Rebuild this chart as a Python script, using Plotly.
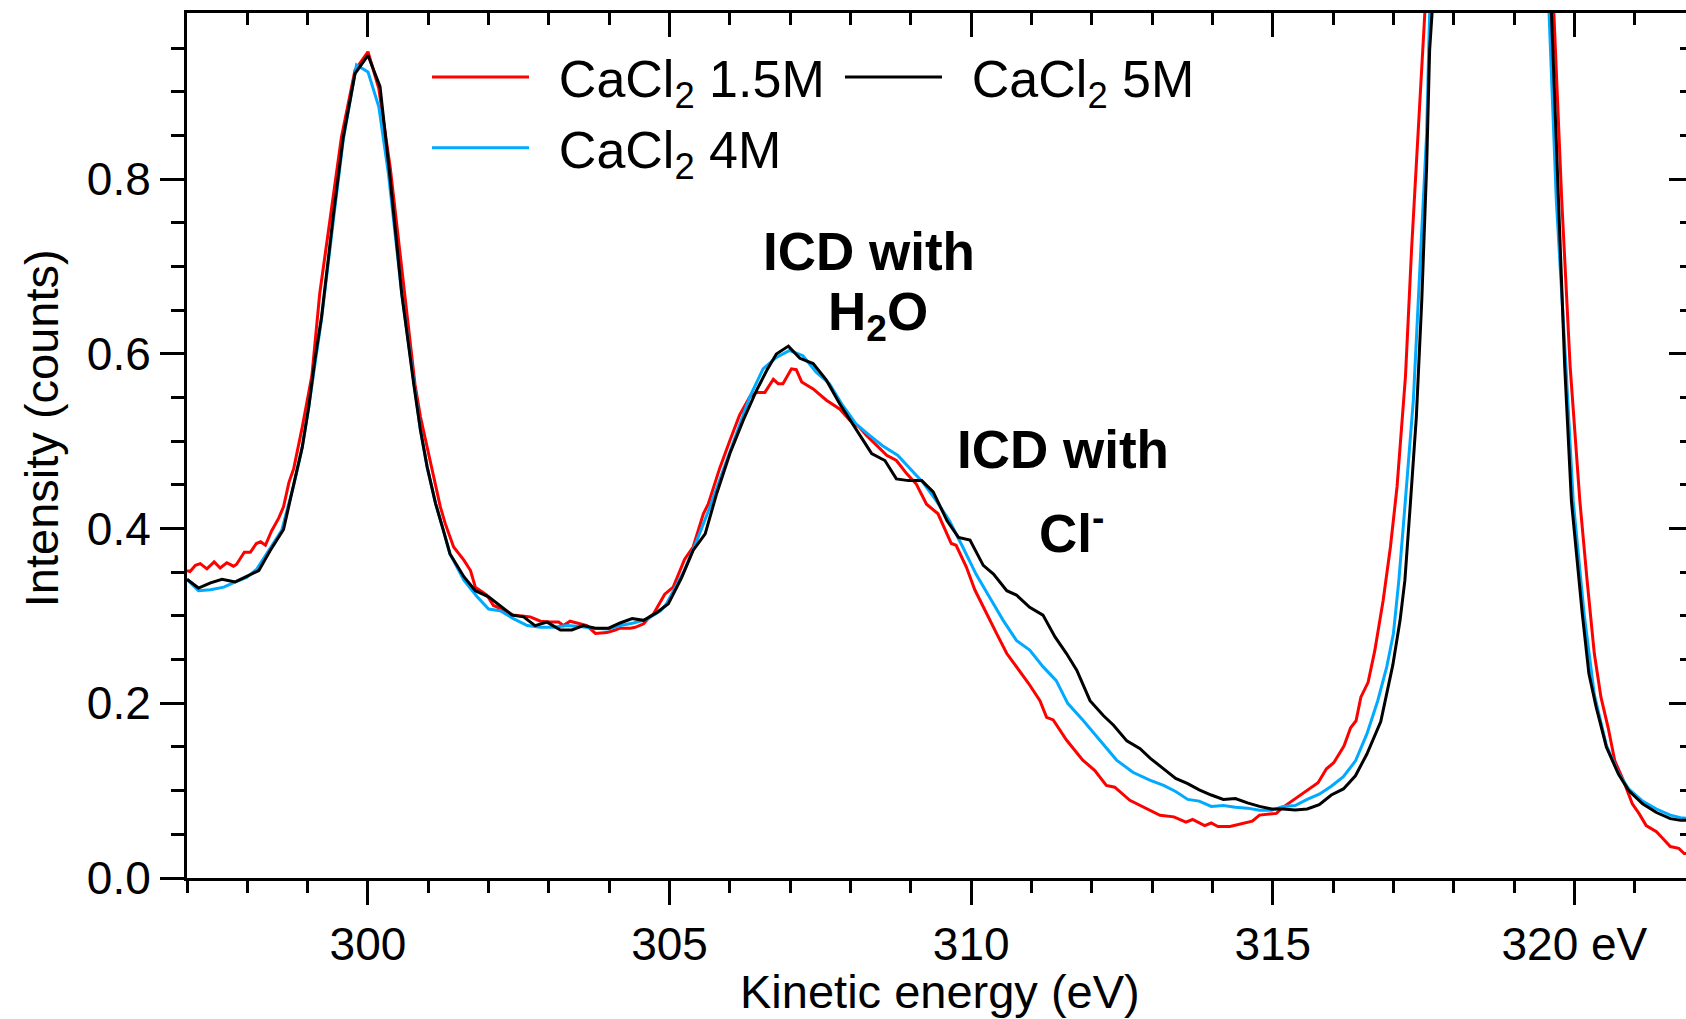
import plotly.graph_objects as go

# ---------------- data ----------------
energy_15M = [297.00, 297.05, 297.14, 297.22, 297.33, 297.45, 297.55, 297.66, 297.77, 297.82,
              297.95, 298.05, 298.15, 298.22, 298.30, 298.40, 298.52, 298.60, 298.69, 298.77,
              298.91, 298.99, 299.07, 299.20, 299.37, 299.56, 299.785, 300.00, 300.18, 300.37,
              300.59, 300.78, 300.87, 300.98, 301.09, 301.20, 301.28, 301.42, 301.59, 301.70,
              301.78, 301.97, 302.08, 302.25, 302.41, 302.55, 302.69, 302.86, 303.02, 303.16,
              303.24, 303.35, 303.41, 303.52, 303.63, 303.77, 303.96, 304.10, 304.18, 304.35,
              304.43, 304.57, 304.67, 304.73, 304.92, 305.06, 305.25, 305.39, 305.56, 305.64,
              305.83, 306.00, 306.16, 306.33, 306.44, 306.58, 306.72, 306.80, 306.88, 307.02,
              307.10, 307.19, 307.38, 307.60, 307.82, 307.99, 308.15, 308.26, 308.43, 308.60,
              308.76, 308.93, 309.09, 309.26, 309.45, 309.53, 309.67, 309.75, 309.92, 310.06,
              310.25, 310.42, 310.59, 310.75, 310.95, 311.14, 311.25, 311.36, 311.58, 311.85,
              312.05, 312.24, 312.38, 312.63, 312.80, 312.96, 313.13, 313.36, 313.56, 313.67,
              313.87, 313.98, 314.09, 314.29, 314.47, 314.66, 314.78, 315.06, 315.15, 315.35,
              315.55, 315.75, 315.89, 316.01, 316.18, 316.29, 316.38, 316.46, 316.58, 316.69,
              316.83, 316.95, 317.06, 317.20, 317.30, 317.41, 317.52, 317.70, 318.00, 318.60,
              319.20, 319.50, 319.66, 319.79, 319.93, 320.09, 320.21, 320.33, 320.44, 320.56,
              320.67, 320.81, 320.96, 321.07, 321.19, 321.36, 321.47, 321.59, 321.73, 321.82,
              321.90]
intensity_15M = [0.352, 0.351, 0.358, 0.360, 0.354, 0.362, 0.355, 0.361, 0.357, 0.359,
                 0.373, 0.373, 0.383, 0.385, 0.381, 0.397, 0.412, 0.425, 0.453, 0.469,
                 0.516, 0.547, 0.575, 0.669, 0.753, 0.848, 0.925, 0.946, 0.904, 0.813,
                 0.680, 0.565, 0.528, 0.494, 0.459, 0.425, 0.406, 0.379, 0.364, 0.352,
                 0.333, 0.324, 0.312, 0.307, 0.301, 0.300, 0.299, 0.294, 0.293, 0.293,
                 0.289, 0.294, 0.293, 0.291, 0.289, 0.280, 0.281, 0.284, 0.286, 0.286,
                 0.287, 0.291, 0.299, 0.302, 0.325, 0.333, 0.365, 0.379, 0.417, 0.428,
                 0.469, 0.501, 0.530, 0.551, 0.556, 0.556, 0.571, 0.566, 0.566, 0.583,
                 0.582, 0.568, 0.560, 0.547, 0.537, 0.524, 0.516, 0.507, 0.495, 0.484,
                 0.478, 0.463, 0.451, 0.428, 0.417, 0.405, 0.383, 0.381, 0.356, 0.330,
                 0.303, 0.280, 0.257, 0.242, 0.223, 0.203, 0.184, 0.181, 0.158, 0.135,
                 0.123, 0.106, 0.104, 0.089, 0.083, 0.0775, 0.0718, 0.070, 0.064, 0.067,
                 0.060, 0.063, 0.059, 0.059, 0.062, 0.065, 0.072, 0.074, 0.080, 0.090,
                 0.100, 0.109, 0.125, 0.132, 0.151, 0.172, 0.180, 0.207, 0.224, 0.260,
                 0.318, 0.379, 0.448, 0.575, 0.719, 0.852, 0.990, 1.30, 2.00, 3.00,
                 2.00, 1.25, 0.990, 0.776, 0.585, 0.432, 0.341, 0.257, 0.207, 0.172,
                 0.134, 0.112, 0.085, 0.074, 0.060, 0.053, 0.045, 0.036, 0.034, 0.028,
                 0.028]

energy_4M = [297.00, 297.19, 297.39, 297.61, 297.80, 297.99, 298.16, 298.38, 298.57, 298.77,
             298.91, 299.02, 299.12, 299.23, 299.43, 299.59, 299.81, 300.00, 300.18, 300.34,
             300.56, 300.76, 300.87, 300.98, 301.12, 301.25, 301.36, 301.59, 301.81, 302.00,
             302.19, 302.41, 302.64, 302.86, 303.08, 303.30, 303.52, 303.74, 303.99, 304.18,
             304.40, 304.62, 304.85, 304.95, 305.23, 305.45, 305.67, 305.89, 306.11, 306.33,
             306.55, 306.77, 306.99, 307.21, 307.43, 307.65, 307.87, 308.09, 308.31, 308.53,
             308.78, 308.98, 309.20, 309.42, 309.64, 309.86, 310.08, 310.30, 310.53, 310.75,
             310.97, 311.19, 311.41, 311.60, 311.85, 312.13, 312.41, 312.68, 312.96, 313.19,
             313.39, 313.59, 313.78, 313.98, 314.18, 314.38, 314.58, 314.78, 314.98, 315.17,
             315.37, 315.57, 315.77, 315.97, 316.17, 316.37, 316.56, 316.74, 316.89, 317.00,
             317.09, 317.18, 317.27, 317.33, 317.44, 317.55, 317.60, 317.80, 318.20, 318.60,
             319.00, 319.40, 319.58, 319.70, 319.86, 319.98, 320.16, 320.33, 320.53, 320.73,
             320.90, 321.13, 321.36, 321.59, 321.76, 321.90]
intensity_4M = [0.342, 0.329, 0.330, 0.333, 0.339, 0.344, 0.354, 0.377, 0.398, 0.450,
                0.493, 0.540, 0.590, 0.640, 0.755, 0.845, 0.931, 0.923, 0.883, 0.806,
                0.669, 0.565, 0.513, 0.471, 0.429, 0.398, 0.371, 0.341, 0.322, 0.308,
                0.306, 0.297, 0.289, 0.287, 0.287, 0.289, 0.288, 0.286, 0.285, 0.289,
                0.292, 0.296, 0.306, 0.314, 0.350, 0.386, 0.425, 0.467, 0.509, 0.551,
                0.583, 0.596, 0.604, 0.598, 0.579, 0.566, 0.541, 0.520, 0.507, 0.495,
                0.484, 0.469, 0.453, 0.432, 0.409, 0.379, 0.348, 0.322, 0.295, 0.272,
                0.261, 0.242, 0.226, 0.200, 0.181, 0.158, 0.135, 0.121, 0.112, 0.106,
                0.099, 0.090, 0.088, 0.082, 0.083, 0.081, 0.080, 0.0775, 0.0775, 0.082,
                0.083, 0.090, 0.096, 0.105, 0.116, 0.134, 0.165, 0.203, 0.242, 0.280,
                0.341, 0.417, 0.493, 0.547, 0.700, 0.852, 0.990, 1.40, 2.50, 3.00,
                2.50, 1.40, 0.990, 0.776, 0.585, 0.432, 0.303, 0.210, 0.152, 0.120,
                0.102, 0.088, 0.079, 0.072, 0.069, 0.068]

energy_5M = [297.00, 297.19, 297.39, 297.58, 297.80, 297.99, 298.19, 298.38, 298.60, 298.77,
             298.91, 299.02, 299.12, 299.23, 299.43, 299.59, 299.785, 300.00, 300.20, 300.36,
             300.56, 300.76, 300.87, 300.98, 301.12, 301.25, 301.36, 301.59, 301.78, 302.00,
             302.19, 302.39, 302.58, 302.77, 302.97, 303.19, 303.38, 303.57, 303.77, 303.99,
             304.18, 304.38, 304.57, 304.79, 304.98, 305.20, 305.39, 305.59, 305.78, 306.00,
             306.22, 306.44, 306.61, 306.77, 306.97, 307.16, 307.38, 307.60, 307.82, 307.99,
             308.21, 308.35, 308.57, 308.76, 308.96, 309.18, 309.37, 309.60, 309.79, 309.98,
             310.20, 310.37, 310.59, 310.75, 310.97, 311.19, 311.39, 311.58, 311.75, 311.97,
             312.19, 312.36, 312.58, 312.80, 312.97, 313.19, 313.39, 313.59, 313.78, 313.98,
             314.18, 314.38, 314.58, 314.78, 314.98, 315.17, 315.37, 315.57, 315.77, 315.97,
             316.17, 316.37, 316.56, 316.79, 316.99, 317.11, 317.19, 317.28, 317.38, 317.47,
             317.55, 317.60, 317.64, 317.80, 318.20, 318.60, 319.00, 319.40, 319.62, 319.73,
             319.84, 319.95, 320.13, 320.24, 320.36, 320.53, 320.73, 320.90, 321.13, 321.36,
             321.59, 321.76, 321.90]
intensity_5M = [0.342, 0.332, 0.338, 0.342, 0.339, 0.345, 0.352, 0.375, 0.399, 0.451,
                0.493, 0.540, 0.593, 0.642, 0.761, 0.848, 0.921, 0.942, 0.906, 0.806,
                0.669, 0.565, 0.513, 0.471, 0.429, 0.398, 0.371, 0.345, 0.329, 0.322,
                0.312, 0.301, 0.299, 0.289, 0.293, 0.284, 0.284, 0.289, 0.286, 0.286,
                0.292, 0.297, 0.295, 0.304, 0.314, 0.344, 0.375, 0.394, 0.440, 0.486,
                0.524, 0.558, 0.581, 0.600, 0.609, 0.595, 0.589, 0.570, 0.543, 0.524,
                0.501, 0.486, 0.478, 0.457, 0.455, 0.455, 0.442, 0.409, 0.390, 0.387,
                0.358, 0.348, 0.329, 0.324, 0.310, 0.301, 0.276, 0.257, 0.238, 0.203,
                0.186, 0.175, 0.157, 0.148, 0.137, 0.125, 0.114, 0.108, 0.101, 0.095,
                0.090, 0.091, 0.086, 0.082, 0.079, 0.079, 0.078, 0.079, 0.084, 0.095,
                0.102, 0.117, 0.142, 0.179, 0.244, 0.295, 0.341, 0.428, 0.528, 0.662,
                0.814, 0.948, 0.990, 1.40, 2.50, 3.00, 2.50, 1.40, 0.990, 0.776,
                0.585, 0.432, 0.303, 0.234, 0.196, 0.150, 0.119, 0.100, 0.085, 0.075,
                0.068, 0.066, 0.066]

series_names = ["CaCl<sub>2</sub> 1.5M", "CaCl<sub>2</sub> 4M", "CaCl<sub>2</sub> 5M"]
series_colors = ["#FF0000", "#00AAFF", "#000000"]
series_legends = ["legend", "legend", "legend2"]

x_ticks = [300, 305, 310, 315, 320]
x_tick_text = ["300", "305", "310", "315", "320 eV"]
y_ticks = [0.0, 0.2, 0.4, 0.6, 0.8]
y_tick_text = ["0.0", "0.2", "0.4", "0.6", "0.8"]

X_RANGE = [297.0, 321.85]
Y_RANGE = [0.0, 0.9904]

FONT = "Liberation Sans, Arial, Helvetica, sans-serif"
GAP = "\u2009\u00a0"

# ---------------- figure ----------------
fig = go.Figure()
for xs, ys, name, col, leg in zip([energy_15M, energy_4M, energy_5M],
                                  [intensity_15M, intensity_4M, intensity_5M],
                                  series_names, series_colors, series_legends):
    fig.add_trace(go.Scatter(x=xs, y=ys, mode="lines", name=GAP + name,
                             line=dict(color=col, width=3), legend=leg))

# empty trace so the mirrored top / right axes get drawn
fig.add_trace(go.Scatter(x=[], y=[], xaxis="x2", yaxis="y2", showlegend=False,
                         hoverinfo="skip"))

axis_common = dict(showgrid=False, zeroline=False, linecolor="black", linewidth=3,
                   tickcolor="black", tickwidth=3,
                   tickfont=dict(family=FONT, size=46, color="black"))

legend_common = dict(orientation="v", xanchor="left", yanchor="top",
                     font=dict(family=FONT, size=52, color="black"),
                     itemwidth=97, bgcolor="rgba(0,0,0,0)", borderwidth=0,
                     traceorder="normal", tracegroupgap=0)

fig.update_layout(
    width=1686, height=1019,
    margin=dict(l=187, r=0, t=13, b=141),
    paper_bgcolor="white", plot_bgcolor="white",
    font=dict(family=FONT, color="black"),
    showlegend=True,
    legend=dict(x=0.1601, y=0.9725, **legend_common),
    legend2=dict(x=0.4356, y=0.9725, **legend_common),
    xaxis=dict(range=X_RANGE, showline=True, ticks="outside", ticklen=24,
               tickvals=x_ticks, ticktext=x_tick_text,
               minor=dict(dtick=1, tick0=297, ticks="outside", ticklen=12,
                          tickwidth=3, tickcolor="black"),
               **axis_common),
    yaxis=dict(range=Y_RANGE, showline=True, ticks="outside", ticklen=24,
               tickvals=y_ticks, ticktext=y_tick_text,
               minor=dict(dtick=0.05, tick0=0, ticks="outside", ticklen=13,
                          tickwidth=3, tickcolor="black"),
               **axis_common),
    xaxis2=dict(range=X_RANGE, overlaying="x", side="top", anchor="y2", showline=True,
                ticks="inside", ticklen=24, tickvals=x_ticks, showticklabels=False,
                minor=dict(dtick=1, tick0=297, ticks="inside", ticklen=12,
                           tickwidth=3, tickcolor="black"),
                **axis_common),
    yaxis2=dict(range=Y_RANGE, overlaying="y", side="right", anchor="x2", showline=False,
                ticks="inside", ticklen=17, tickvals=y_ticks, showticklabels=False,
                minor=dict(dtick=0.05, tick0=0, ticks="inside", ticklen=6,
                           tickwidth=3, tickcolor="black"),
                **axis_common),
)

annotations = [
    dict(text="Kinetic energy (eV)", x=0.5023, y=-0.1312, xref="paper", yref="paper",
         xanchor="center", yanchor="middle", showarrow=False,
         font=dict(family=FONT, size=47, color="black")),
    dict(text="Intensity (counts)", x=-0.0974, y=0.520, xref="paper", yref="paper",
         xanchor="center", yanchor="middle", textangle=-90, showarrow=False,
         font=dict(family=FONT, size=47, color="black")),
    dict(text="<b>ICD with</b>", x=308.31, y=0.7175, xref="x", yref="y",
         xanchor="center", yanchor="middle", showarrow=False,
         font=dict(family=FONT, size=53, color="black")),
    dict(text="<b>H<sub>2</sub>O</b>", x=308.45, y=0.644, xref="x", yref="y",
         xanchor="center", yanchor="middle", showarrow=False,
         font=dict(family=FONT, size=53, color="black")),
    dict(text="<b>ICD with</b>", x=311.52, y=0.4909, xref="x", yref="y",
         xanchor="center", yanchor="middle", showarrow=False,
         font=dict(family=FONT, size=53, color="black")),
    dict(text="<b>Cl<sup>-</sup></b>", x=311.67, y=0.399, xref="x", yref="y",
         xanchor="center", yanchor="middle", showarrow=False,
         font=dict(family=FONT, size=53, color="black")),
]
fig.update_layout(annotations=annotations)

fig.write_html("out.html", config={"displayModeBar": False},
               post_script="document.body.style.margin='0';document.body.style.overflow='hidden';")
